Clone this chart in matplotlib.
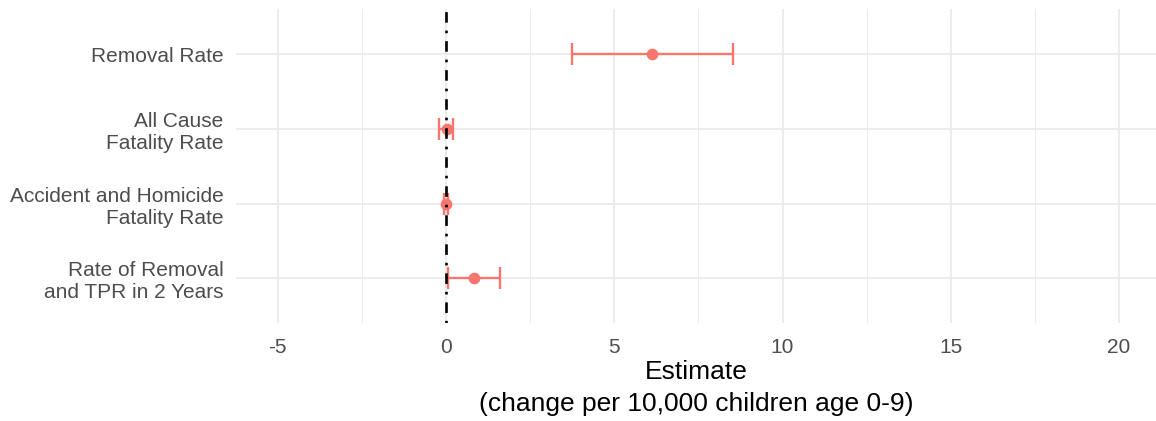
import numpy as np
import matplotlib
matplotlib.use("Agg")
import matplotlib.pyplot as plt
from matplotlib.ticker import MultipleLocator

plt.rcParams['font.family'] = ['Liberation Sans', 'DejaVu Sans']
plt.rcParams['axes.unicode_minus'] = False

# outcomes, top to bottom
outcomes = ["Removal Rate",
            "All Cause\nFatality Rate",
            "Accident and Homicide\nFatality Rate",
            "Rate of Removal\nand TPR in 2 Years"]
estimate = [6.13, 0.02, 0.01, 0.83]
ci_low = [3.75, -0.20, -0.05, 0.05]
ci_high = [8.52, 0.22, 0.06, 1.60]

red = "#F8766D"
grid_col = "#EBEBEB"
txt_col = "#4D4D4D"

fig = plt.figure(figsize=(11.56, 4.21), dpi=100)
ax = fig.add_axes([0.2042, 0.2328, 0.7958, 0.7450])

ypos = np.arange(1, len(outcomes) + 1)
est = np.array(estimate)
xerr = np.vstack([est - np.array(ci_low), np.array(ci_high) - est])

ax.errorbar(est, ypos, xerr=xerr, fmt="o", color=red, ecolor=red,
            elinewidth=1.7, capsize=8.1, capthick=1.7, markersize=7.4,
            zorder=3)

# reference line at zero
ax.axvline(0, color="black", lw=1.9, dashes=(1, 3, 4, 3), zorder=4)

ax.set_xlim(-6.24, 21.1)
ax.set_ylim(4.6, 0.4)
ax.set_yticks(ypos)
ax.set_yticklabels(outcomes, linespacing=1.2)
ax.xaxis.set_major_locator(MultipleLocator(5))
ax.xaxis.set_minor_locator(MultipleLocator(2.5))

ax.grid(which="major", color=grid_col, lw=1.3, zorder=0)
ax.grid(which="minor", axis="x", color=grid_col, lw=0.7, zorder=0)
ax.set_axisbelow(True)

for s in ax.spines.values():
    s.set_visible(False)
ax.tick_params(which="both", length=0)
ax.tick_params(axis="y", labelsize=15, labelcolor=txt_col, pad=9)
ax.tick_params(axis="x", labelsize=15, labelcolor=txt_col, pad=11)

ax.set_xlabel("Estimate\n(change per 10,000 children age 0-9)",
              fontsize=19, color="black", linespacing=1.42, labelpad=2)

fig.savefig("out.png", dpi=100)
